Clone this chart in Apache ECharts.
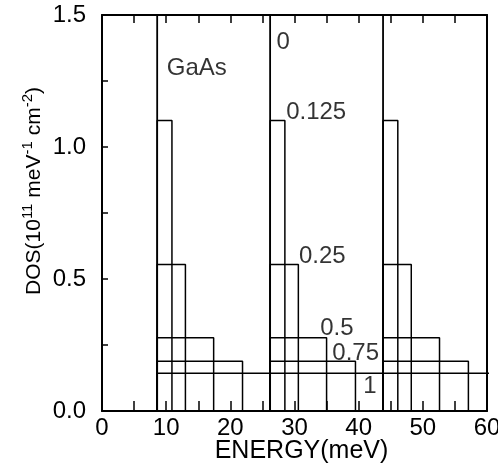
<!DOCTYPE html>
<html>
<head>
<meta charset="utf-8">
<script src="https://cdn.jsdelivr.net/npm/echarts@6/dist/echarts.min.js"></script>
<style>
  html, body { margin: 0; padding: 0; background: #fff; }
  #main { width: 498px; height: 470px; }
</style>
</head>
<body>
<div id="main"></div>
<script>
// subband onsets (meV)
var starts = [8.6, 26.2, 43.8];
// broadening parameter of each curve
var params = ['0.125', '0.25', '0.5', '0.75', '1'];
var widths = [2.3, 4.4, 8.8, 13.3, 17.6];
var heights = [1.1, 0.555, 0.277, 0.188, 0.143];
// the "0" curve: delta-like lines up to the top of the frame
var deltaTop = 1.5;

// curve labels (x, y) in data units
var labelNames = ['GaAs', '0', '0.125', '0.25', '0.5', '0.75', '1'];
var labelX = [10.1, 27.2, 28.7, 30.7, 34.0, 35.9, 40.7];
var labelY = [1.296, 1.396, 1.13, 0.584, 0.314, 0.22, 0.092];

var xTicks = [0, 10, 20, 30, 40, 50, 60];

var myChart = echarts.init(document.getElementById('main'));

function boxPath(w, h) {
    var pts = [];
    starts.forEach(function (s) {
        pts.push([s, 0], [s, h], [s + w, h], [s + w, 0]);
    });
    return pts;
}

var series = [];
// zero-broadening curve
var deltaPts = [];
starts.forEach(function (s) {
    deltaPts.push([s, 0], [s, deltaTop], [s, 0]);
});
series.push({
    type: 'line', name: '0', data: deltaPts, symbol: 'none',
    lineStyle: { color: '#000', width: 1.8 }, animation: false
});
params.forEach(function (p, i) {
    series.push({
        type: 'line', name: p, data: boxPath(widths[i], heights[i]), symbol: 'none',
        lineStyle: { color: '#000', width: 1.5 }, animation: false
    });
});
series.push({
    type: 'scatter',
    symbolSize: 0,
    data: labelNames.map(function (n, i) { return { value: [labelX[i], labelY[i]], name: n }; }),
    label: {
        show: true, position: 'right', distance: 0,
        formatter: function (d) { return d.name; },
        color: '#000', fontSize: 24, fontFamily: 'Liberation Sans'
    },
    animation: false, silent: true
});

var font = { color: '#000', fontSize: 24, fontFamily: 'Liberation Sans' };
var axisLine = { show: true, onZero: false, lineStyle: { color: '#000', width: 2 } };

var option = {
    backgroundColor: '#fff',
    animation: false,
    grid: { left: 102, right: 11, top: 15, bottom: 59, outerBoundsMode: 'none', containLabel: false },
    xAxis: [{
        type: 'value', min: 0, max: 60, interval: 10, position: 'bottom',
        name: 'ENERGY(meV)', nameLocation: 'middle', nameGap: 28, nameMoveOverlap: false,
        nameTextStyle: { color: '#000', fontSize: 25, fontFamily: 'Liberation Sans', padding: [0, 0, 0, 14] },
        axisLine: axisLine,
        axisTick: { show: true, inside: true, length: 10, lineStyle: { color: '#000', width: 1.5 } },
        minorTick: { show: true, splitNumber: 2, length: 10, lineStyle: { color: '#000', width: 1.5 } },
        axisLabel: Object.assign({ margin: 5, formatter: function (v) { return xTicks.indexOf(v) >= 0 ? String(v) : ''; } }, font),
        splitLine: { show: false }
    }, {
        type: 'value', min: 0, max: 60, interval: 10, position: 'top',
        axisLine: axisLine,
        axisTick: { show: true, inside: true, length: 8, lineStyle: { color: '#000', width: 1.5 } },
        minorTick: { show: true, splitNumber: 2, length: 8, lineStyle: { color: '#000', width: 1.5 } },
        axisLabel: { show: false },
        splitLine: { show: false }
    }],
    yAxis: [{
        type: 'value', min: 0, max: 1.5, interval: 0.5, position: 'left',
        name: 'DOS(10{sup|11} meV{sup|-1} cm{sup|-2})',
        nameLocation: 'middle', nameGap: 54, nameRotate: 90, nameMoveOverlap: false,
        nameTextStyle: {
            color: '#000', fontSize: 21, fontFamily: 'Liberation Sans', lineHeight: 28,
            padding: [0, 0, 0, 44],
            rich: {
                sup: { fontSize: 15, fontFamily: 'Liberation Sans', color: '#000', verticalAlign: 'top', lineHeight: 15 }
            }
        },
        axisLine: axisLine,
        axisTick: { show: true, inside: true, length: 6, lineStyle: { color: '#000', width: 1.5 } },
        minorTick: { show: true, splitNumber: 2, length: 6, lineStyle: { color: '#000', width: 1.5 } },
        axisLabel: Object.assign({ margin: 16, formatter: function (v) { return v.toFixed(1); } }, font),
        splitLine: { show: false }
    }, {
        type: 'value', min: 0, max: 1.5, interval: 0.5, position: 'right',
        axisLine: axisLine,
        axisTick: { show: false },
        axisLabel: { show: false },
        splitLine: { show: false }
    }],
    series: series
};

myChart.setOption(option);
</script>
</body>
</html>
